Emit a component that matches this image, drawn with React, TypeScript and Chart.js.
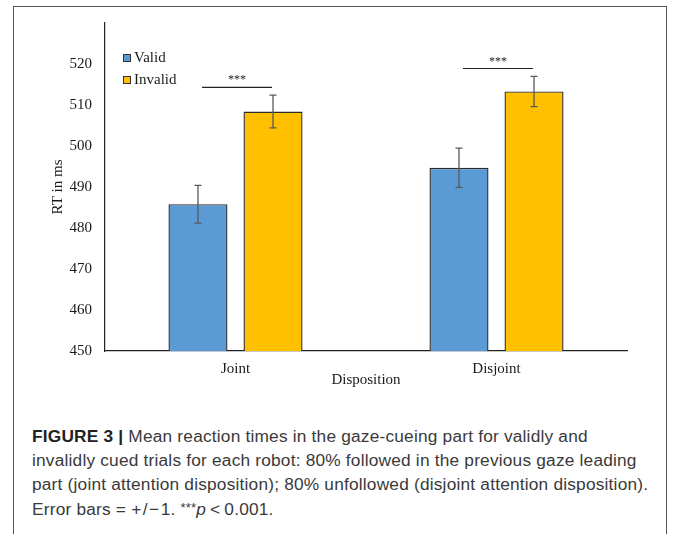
import React, { useEffect, useRef } from "react";
import { Chart, registerables } from "chart.js";

Chart.register(...registerables);

const categories = ["Joint", "Disjoint"];
const validMeans = [485.8, 494.7];
const invalidMeans = [508.4, 513.3];
const validErrors = [4.6, 4.8];
const invalidErrors = [4.0, 3.7];
const sigLevels = [514.3, 518.9];
const sigLabels = ["***", "***"];
const yTicksShown = [450, 460, 470, 480, 490, 500, 510, 520];

const SERIF = "'Liberation Serif', 'Times New Roman', serif";

const errorBarPlugin = {
  id: "errorBars",
  afterDatasetsDraw(chart: any) {
    const ctx = chart.ctx;
    const y = chart.scales.y;
    const errs = [validErrors, invalidErrors];
    ctx.save();
    ctx.strokeStyle = "#595959";
    ctx.lineWidth = 1.3;
    chart.data.datasets.forEach((ds: any, di: number) => {
      const meta = chart.getDatasetMeta(di);
      meta.data.forEach((bar: any, i: number) => {
        const v = ds.data[i];
        const e = errs[di][i];
        const x = bar.x;
        const yTop = y.getPixelForValue(v + e);
        const yBot = y.getPixelForValue(v - e);
        ctx.beginPath();
        ctx.moveTo(x, yTop);
        ctx.lineTo(x, yBot);
        ctx.moveTo(x - 3.5, yTop);
        ctx.lineTo(x + 3.5, yTop);
        ctx.moveTo(x - 3.5, yBot);
        ctx.lineTo(x + 3.5, yBot);
        ctx.stroke();
      });
    });
    const m0 = chart.getDatasetMeta(0);
    const m1 = chart.getDatasetMeta(1);
    ctx.strokeStyle = "#222";
    ctx.fillStyle = "#222";
    ctx.lineWidth = 1.2;
    ctx.font = "12px " + SERIF;
    ctx.textAlign = "center";
    ctx.textBaseline = "alphabetic";
    sigLevels.forEach((lvl, i) => {
      const x0 = m0.data[i].x + 4;
      const x1 = m1.data[i].x - 1;
      const ly = y.getPixelForValue(lvl);
      ctx.beginPath();
      ctx.moveTo(x0, ly);
      ctx.lineTo(x1, ly);
      ctx.stroke();
      ctx.fillText(sigLabels[i], (x0 + x1) / 2, ly - 4);
    });
    ctx.restore();
  },
};

const legendPlugin = {
  id: "innerLegend",
  afterDraw(chart: any) {
    const ctx = chart.ctx;
    const area = chart.chartArea;
    ctx.save();
    ctx.font = "15px " + SERIF;
    ctx.textBaseline = "middle";
    ctx.textAlign = "left";
    chart.data.datasets.forEach((ds: any, i: number) => {
      const bx = area.left + 18;
      const by = area.top + 31 + i * 22;
      ctx.fillStyle = ds.backgroundColor;
      ctx.fillRect(bx, by, 8, 8);
      ctx.strokeStyle = "#333";
      ctx.lineWidth = 1;
      ctx.strokeRect(bx + 0.5, by + 0.5, 7, 7);
      ctx.fillStyle = "#1a1a1a";
      ctx.fillText(ds.label, bx + 11, by + 4);
    });
    ctx.restore();
  },
};

export default function App() {
  const ref = useRef<HTMLCanvasElement>(null);

  useEffect(() => {
    document.body.style.margin = "0";
    if (!ref.current) return;
    const chart = new Chart(ref.current, {
      type: "bar",
      data: {
        labels: categories,
        datasets: [
          {
            label: "Valid",
            data: validMeans,
            backgroundColor: "#5B9BD5",
            borderColor: "#2b2b2b",
            borderWidth: 1.4,
            categoryPercentage: 0.575,
            barPercentage: 0.787,
          },
          {
            label: "Invalid",
            data: invalidMeans,
            backgroundColor: "#FFC000",
            borderColor: "#2b2b2b",
            borderWidth: 1.4,
            categoryPercentage: 0.575,
            barPercentage: 0.787,
          },
        ],
      },
      options: {
        animation: false,
        responsive: false,
        maintainAspectRatio: false,
        layout: { padding: { left: 49, right: 48, top: 23, bottom: 0 } },
        plugins: {
          legend: { display: false },
          tooltip: { enabled: false },
        },
        scales: {
          x: {
            grid: { display: false, drawTicks: false },
            border: { display: true, color: "#222", width: 1.2 },
            ticks: {
              padding: 9,
              color: "#1a1a1a",
              font: { family: SERIF, size: 15 },
            },
            title: {
              display: true,
              text: "Disposition",
              color: "#1a1a1a",
              padding: 0,
              font: { family: SERIF, size: 15 },
            },
            afterFit: (s: any) => {
              s.height = 38;
            },
          },
          y: {
            min: 450,
            max: 530,
            grid: { display: false, drawTicks: false },
            border: { display: true, color: "#222", width: 1.2 },
            ticks: {
              stepSize: 10,
              padding: 13,
              color: "#1a1a1a",
              font: { family: SERIF, size: 15 },
              callback: (v: any) => (yTicksShown.includes(Number(v)) ? String(v) : ""),
            },
            title: {
              display: true,
              text: "RT in ms",
              color: "#1a1a1a",
              padding: 0,
              font: { family: SERIF, size: 15 },
            },
            afterFit: (s: any) => {
              s.width = 56;
            },
          },
        },
      },
      plugins: [errorBarPlugin, legendPlugin],
    });
    return () => chart.destroy();
  }, []);

  return (
    <div style={{ position: "relative", width: 675, height: 534, overflow: "hidden", background: "#fff" }}>
      <div
        style={{
          position: "absolute",
          left: 13,
          top: 6,
          width: 654,
          height: 600,
          border: "1px solid #555",
          boxSizing: "border-box",
        }}
      />
      <canvas
        ref={ref}
        width={675}
        height={389}
        style={{ position: "absolute", left: 0, top: 0, width: 675, height: 389 }}
      />
      <div
        style={{
          position: "absolute",
          left: 32,
          top: 424,
          fontFamily: "'Liberation Sans', Arial, sans-serif",
          fontSize: 17.3,
          letterSpacing: 0.2,
          lineHeight: "24px",
          color: "#3a3a3a",
          whiteSpace: "nowrap",
        }}
      >
        <b style={{ color: "#222" }}>FIGURE 3 |</b> Mean reaction times in the gaze-cueing part for validly and
        <br />
        invalidly cued trials for each robot: 80% followed in the previous gaze leading
        <br />
        part (joint attention disposition); 80% unfollowed (disjoint attention disposition).
        <br />
        Error bars = <span style={{ letterSpacing: 1.5 }}>+/−</span>1.{" "}
        <span style={{ fontSize: 13, verticalAlign: 3 }}>***</span>
        <i>p</i>
        <span style={{ margin: "0 4px" }}>&lt;</span>0.001.
      </div>
    </div>
  );
}
